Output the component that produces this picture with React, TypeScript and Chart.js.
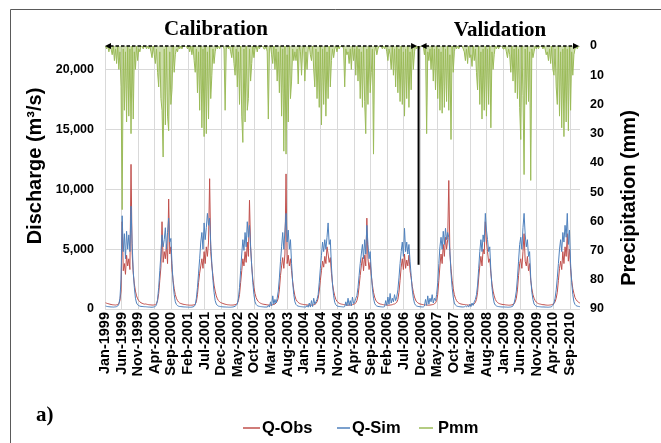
import React, { useEffect, useRef } from "react";
import { Chart, registerables } from "chart.js";

Chart.register(...registerables);

// Tick labels (every 5 months from Jan-1999)
const tickLabels = [
  "Jan-1999", "Jun-1999", "Nov-1999", "Apr-2000", "Sep-2000", "Feb-2001", "Jul-2001", "Dec-2001",
  "May-2002", "Oct-2002", "Mar-2003", "Aug-2003", "Jan-2004", "Jun-2004", "Nov-2004", "Apr-2005",
  "Sep-2005", "Feb-2006", "Jul-2006", "Dec-2006", "May-2007", "Oct-2007", "Mar-2008", "Aug-2008",
  "Jan-2009", "Jun-2009", "Nov-2009", "Apr-2010", "Sep-2010",
];
const dischargeTicks = [0, 5000, 10000, 15000, 20000];
const precipTicks = [0, 10, 20, 30, 40, 50, 60, 70, 80, 90];

const seriesNames = ["Q-Obs", "Q-Sim", "Pmm"];
const seriesColors = ["#c0504d", "#4f81bd", "#9bbb59"];

// Dekadal values (3 per month), Jan-1999 .. Dec-2010
// Observed discharge (m3/s)
const qObs = [
  /*1999*/ 520,480,450, 430,400,380, 360,350,340, 330,350,380, 450,700,1500, 7300,3200,3800, 2900,4500,3600, 4200,3300,12100, 4700,3000,2100, 1500,1100,850, 700,600,520, 480,440,410,
  /*2000*/ 420,400,380, 360,350,340, 330,330,340, 380,450,700, 1300,2400,3500, 7300,3900,4800, 4200,5400,3800, 9200,4600,5200, 3300,2400,1700, 1200,900,700, 580,500,460, 430,400,380,
  /*2001*/ 370,350,340, 330,320,320, 320,330,350, 400,600,1200, 2200,3000,3600, 4200,3400,4800, 3800,5200,4400, 5600,10900,4800, 3600,2800,2000, 1500,1100,850, 700,600,540, 500,460,430,
  /*2002*/ 400,380,360, 350,340,330, 330,330,340, 360,400,480, 700,1200,2200, 3200,4200,3600, 4800,3900,5600, 4400,9100,5200, 3600,2500,1800, 1300,950,750, 620,540,480, 440,410,390,
  /*2003*/ 380,360,350, 340,330,330, 340,360,380, 420,500,650, 900,1600,2800, 3600,4300,3400, 4600,11300,3800, 4500,3600,4200, 3200,2300,1600, 1100,800,650, 550,480,440, 410,390,370,
  /*2004*/ 360,350,340, 330,320,320, 320,330,350, 380,450,600, 900,1500,2400, 3200,4000,3500, 4400,3800,5200, 4600,3900,4300, 3000,2100,1500, 1100,800,650, 540,480,440, 410,390,370,
  /*2005*/ 360,340,330, 320,320,330, 340,360,380, 420,520,700, 1100,1900,2800, 3600,4300,3200, 4500,3600,7600, 4200,3300,3900, 2800,2000,1400, 1000,750,600, 520,460,420, 400,380,360,
  /*2006*/ 350,340,330, 320,320,330, 340,360,400, 420,480,560, 800,1400,2400, 3500,4200,3300, 4600,3400,4100, 3600,4500,3200, 2600,1900,1400, 1000,750,600, 520,460,420, 400,380,360,
  /*2007*/ 360,340,330, 320,320,330, 340,360,380, 420,520,700, 1200,2400,3600, 4600,3800,5400, 4400,6000,5000, 5800,10750,4600, 3400,2400,1700, 1200,900,700, 580,500,450, 420,400,380,
  /*2008*/ 380,360,350, 340,330,330, 340,360,380, 430,550,800, 1400,2600,3600, 4400,3600,5000, 4600,7300,5600, 4800,3900,4200, 3000,2100,1500, 1100,800,650, 540,480,440, 410,390,370,
  /*2009*/ 370,350,340, 330,320,320, 330,350,380, 430,600,900, 1600,2800,3800, 4200,3400,4800, 6300,4000,3600, 4400,3200,3800, 2400,1700,1200, 900,700,580, 500,450,420, 400,380,360,
  /*2010*/ 360,340,330, 320,320,330, 340,360,400, 450,600,900, 1400,2400,3400, 4000,3300,4800, 3800,5200,4400, 6300,4000,5000, 3400,2400,1700, 1300,950,780, 660,580,520, 480,450,430,
];

// Simulated discharge (m3/s)
const qSim = [
  /*1999*/ 250,220,200, 190,180,170, 170,160,170, 180,200,250, 400,900,2500, 7800,4800,6300, 4200,6500,5000, 6200,4800,8600, 5500,3200,1800, 900,500,350, 280,240,220, 210,200,190,
  /*2000*/ 190,180,170, 160,160,150, 150,160,180, 220,350,800, 1800,3200,4600, 6200,5200,5800, 6800,5000,6400, 7600,5600,5900, 3800,2200,1200, 600,380,280, 230,210,200, 190,180,170,
  /*2001*/ 170,160,160, 150,150,150, 160,180,220, 350,900,1800, 3000,4200,5600, 6400,5000,7200, 5800,6800,8000, 7000,7600,5400, 3800,2400,1400, 700,420,300, 240,220,200, 190,180,170,
  /*2002*/ 170,160,160, 150,150,150, 160,170,190, 230,300,420, 900,1800,3200, 4600,5800,4900, 6400,5200,7300, 6000,7000,5200, 3600,2200,1200, 600,380,280, 240,220,200, 190,180,170,
  /*2003*/ 160,170,150, 300,160,600, 250,1100,400, 800,500,900, 1500,2600,4000, 5200,6400,5000, 6600,8000,5600, 6600,5000,5800, 3800,2200,1200, 600,380,280, 240,220,200, 190,180,170,
  /*2004*/ 170,160,300, 150,500,160, 700,200,900, 400,600,800, 1200,2200,3400, 4500,5600,4800, 5800,5000,6000, 7200,5400,5800, 3600,2000,1100, 550,350,260, 230,210,200, 190,180,170,
  /*2005*/ 200,600,250, 900,300,700, 250,1000,450, 600,900,1100, 1800,2800,3800, 4600,5400,4200, 5800,4600,7000, 5400,4200,4800, 3000,1700,900, 480,320,250, 220,200,190, 180,170,170,
  /*2006*/ 200,700,300, 1000,400,1300, 500,900,600, 1200,700,1000, 1600,2600,3800, 4800,5600,4400, 6750,4800,5600, 4600,5400,4000, 2800,1600,900, 480,320,250, 220,200,190, 180,170,170,
  /*2007*/ 250,800,300, 1100,400,900, 600,1200,500, 900,700,1200, 2200,3800,5200, 6000,5000,6500, 5400,6750,5800, 6400,6000,4800, 3000,1800,1000, 500,330,260, 220,200,190, 180,170,170,
  /*2008*/ 180,250,170, 300,160,400, 200,500,300, 600,800,1200, 2000,3400,4800, 5800,4800,6200, 5600,8000,6600, 5800,4800,5200, 3200,1800,1000, 500,330,260, 220,200,190, 180,170,170,
  /*2009*/ 170,160,160, 150,150,160, 170,200,260, 500,900,1500, 2600,4000,5400, 6000,5000,6800, 8000,6200,5200, 5800,4400,4800, 2600,1400,800, 420,300,240, 210,200,190, 180,170,170,
  /*2010*/ 170,160,160, 150,150,160, 170,200,300, 500,900,1600, 2600,3800,5000, 5800,4800,6400, 5600,7000,6000, 8000,5400,6600, 3800,2200,1200, 600,380,280, 240,220,200, 190,180,170,
];

// Precipitation (mm)
const pmm = [
  /*1999*/ 0,1,0, 2,0,1, 3,0,5, 1,6,0, 8,2,14, 56,1,22, 2,26,0, 24,1,30, 0,25,2, 8,0,5, 1,2,0, 0,1,0,
  /*2000*/ 0,1,0, 1,0,2, 4,0,3, 6,1,9, 14,2,18, 22,38,1, 27,0,24, 29,2,20, 15,0,9, 3,1,2, 0,1,0, 1,0,0,
  /*2001*/ 0,0,1, 0,2,0, 3,0,5, 9,1,16, 2,22,0, 28,1,31, 0,30,2, 25,0,18, 10,1,6, 2,0,1, 0,1,0, 0,0,1,
  /*2002*/ 22,1,0, 1,0,2, 4,0,6, 10,1,14, 2,20,0, 24,33,1, 26,0,22, 18,1,12, 6,0,4, 1,0,2, 0,1,0, 0,0,1,
  /*2003*/ 1,0,2, 25,1,0, 3,6,0, 8,1,12, 2,16,0, 24,1,36, 0,37,3, 26,0,18, 12,1,5, 2,5,1, 13,0,2, 10,1,0,
  /*2004*/ 12,2,8, 1,0,3, 5,0,8, 14,1,18, 2,21,0, 27,1,20, 0,24,2, 18,0,14, 5,1,4, 1,0,2, 0,1,0, 0,0,1,
  /*2005*/ 14,1,3, 2,6,1, 8,0,5, 1,10,0, 12,1,18, 2,21,0, 19,30,1, 20,0,16, 9,1,37, 2,0,3, 1,0,0, 0,1,0,
  /*2006*/ 1,0,2, 5,1,3, 8,0,10, 1,14,0, 16,1,19, 0,20,2, 24,1,18, 0,21,2, 15,0,8, 2,0,1, 0,1,0, 0,0,0,
  /*2007*/ 3,0,30, 2,5,1, 8,0,12, 1,15,0, 18,1,22, 2,23,0, 21,1,19, 0,22,3, 32,0,9, 2,0,1, 0,1,0, 0,0,1,
  /*2008*/ 2,5,1, 6,0,4, 3,7,0, 5,1,9, 15,0,20, 2,25,1, 22,0,24, 1,20,0, 28,2,8, 3,0,1, 0,1,0, 0,0,1,
  /*2009*/ 1,0,2, 4,1,3, 9,0,12, 1,16,0, 18,1,21, 32,0,17, 44,1,20, 0,19,2, 46,1,4, 2,0,1, 0,1,0, 0,0,1,
  /*2010*/ 0,1,3, 2,5,1, 6,0,8, 10,1,14, 20,0,24, 2,28,1, 31,0,26, 1,29,0, 22,2,10, 3,1,0, 1,0,0, 0,0,0,
];

// Calibration / validation split (months since Jan-1999)
const splitMonth = 94.4;
const splitLineBottomQ = 3700;

const SANS = "'Liberation Sans', Arial, sans-serif";
const SERIF = "'Liberation Serif', 'Times New Roman', serif";

const toPoints = (arr: number[]) => arr.map((v, i) => ({ x: i / 3 + 1 / 6, y: v }));

function drawArrow(ctx: CanvasRenderingContext2D, x1: number, x2: number, y: number) {
  ctx.save();
  ctx.strokeStyle = "#000";
  ctx.fillStyle = "#000";
  ctx.lineWidth = 1.6;
  ctx.setLineDash([3.5, 2]);
  ctx.beginPath();
  ctx.moveTo(x1 + 5, y);
  ctx.lineTo(x2 - 5, y);
  ctx.stroke();
  ctx.setLineDash([]);
  ctx.beginPath();
  ctx.moveTo(x1, y);
  ctx.lineTo(x1 + 6, y - 3);
  ctx.lineTo(x1 + 6, y + 3);
  ctx.closePath();
  ctx.fill();
  ctx.beginPath();
  ctx.moveTo(x2, y);
  ctx.lineTo(x2 - 6, y - 3);
  ctx.lineTo(x2 - 6, y + 3);
  ctx.closePath();
  ctx.fill();
  ctx.restore();
}

const decorPlugin = {
  id: "decor",
  afterDatasetsDraw(chart: any) {
    const { ctx, chartArea, scales } = chart;
    const xd = scales.x.getPixelForValue(splitMonth);
    ctx.save();
    ctx.strokeStyle = "#000";
    ctx.lineWidth = 2;
    ctx.beginPath();
    ctx.moveTo(xd, chartArea.top);
    ctx.lineTo(xd, scales.y.getPixelForValue(splitLineBottomQ));
    ctx.stroke();
    ctx.restore();
    drawArrow(ctx, chartArea.left, xd - 1.5, chartArea.top);
    drawArrow(ctx, xd + 2, chartArea.right - 1, chartArea.top);
  },
  afterDraw(chart: any) {
    const { ctx } = chart;
    ctx.save();
    // frame
    ctx.strokeStyle = "#5a5a5a";
    ctx.lineWidth = 1;
    ctx.beginPath();
    ctx.moveTo(10.5, 443);
    ctx.lineTo(10.5, 9.5);
    ctx.lineTo(661, 9.5);
    ctx.stroke();

    ctx.fillStyle = "#000";
    // period titles
    ctx.font = `bold 21px ${SERIF}`;
    ctx.textAlign = "center";
    ctx.textBaseline = "alphabetic";
    ctx.fillText("Calibration", 216, 35);
    ctx.fillText("Validation", 500, 35.5);

    // panel letter
    ctx.textAlign = "left";
    ctx.fillText("a)", 36, 421);

    // axis titles
    ctx.font = `bold 20px ${SANS}`;
    ctx.textAlign = "center";
    ctx.save();
    ctx.translate(41, 166);
    ctx.rotate(-Math.PI / 2);
    ctx.fillText("Discharge (m³/s)", 0, 0);
    ctx.restore();
    ctx.save();
    ctx.translate(635, 198);
    ctx.rotate(-Math.PI / 2);
    ctx.fillText("Precipitation (mm)", 0, 0);
    ctx.restore();

    // legend
    const items = [
      { lx1: 243, lx2: 260, tx: 262 },
      { lx1: 337, lx2: 350, tx: 352 },
      { lx1: 419, lx2: 433, tx: 438 },
    ];
    ctx.font = `bold 16.5px ${SANS}`;
    ctx.textAlign = "left";
    items.forEach((it, i) => {
      ctx.strokeStyle = seriesColors[i];
      ctx.lineWidth = 1.5;
      ctx.beginPath();
      ctx.moveTo(it.lx1, 428);
      ctx.lineTo(it.lx2, 428);
      ctx.stroke();
      ctx.fillStyle = "#000";
      ctx.fillText(seriesNames[i], it.tx, 432.5);
    });
    ctx.restore();
  },
};

export default function App() {
  const canvasRef = useRef<HTMLCanvasElement | null>(null);

  useEffect(() => {
    const canvas = canvasRef.current;
    if (!canvas) return;
    const chart = new Chart(canvas, {
      type: "line",
      data: {
        datasets: [
          {
            label: seriesNames[0],
            data: toPoints(qObs),
            borderColor: seriesColors[0],
            borderWidth: 1,
            pointRadius: 0,
            tension: 0,
            yAxisID: "y",
            order: 1,
          },
          {
            label: seriesNames[1],
            data: toPoints(qSim),
            borderColor: seriesColors[1],
            borderWidth: 1,
            pointRadius: 0,
            tension: 0,
            yAxisID: "y",
            order: 0,
          },
          {
            label: seriesNames[2],
            data: toPoints(pmm),
            borderColor: seriesColors[2],
            backgroundColor: "rgba(155,187,89,0.5)",
            fill: { value: 0 },
            borderWidth: 1,
            pointRadius: 0,
            tension: 0,
            yAxisID: "y2",
            order: 2,
          },
        ],
      },
      options: {
        animation: false,
        responsive: false,
        devicePixelRatio: 1,
        layout: { padding: { top: 46, left: 0, right: 0, bottom: 0 } },
        plugins: {
          legend: { display: false },
          tooltip: { enabled: false },
          filler: { propagate: false },
        },
        scales: {
          x: {
            type: "linear",
            min: 0,
            max: 143,
            grid: { color: "#d9d9d9", drawTicks: false },
            border: { display: false },
            ticks: {
              autoSkip: false,
              minRotation: 90,
              maxRotation: 90,
              padding: 3,
              color: "#000",
              font: { family: SANS, weight: "bold", size: 14.5 },
              callback: (v: any) => tickLabels[Math.round(Number(v) / 5)] ?? "",
            },
            afterBuildTicks: (s: any) => {
              s.ticks = tickLabels.map((_, i) => ({ value: i * 5 }));
            },
            afterFit: (s: any) => {
              s.height = 134;
            },
          },
          y: {
            position: "left",
            min: 0,
            max: 22000,
            grid: { color: "#d9d9d9", drawTicks: false },
            border: { display: false },
            ticks: {
              padding: 11,
              color: "#000",
              font: { family: SANS, weight: "bold", size: 12.5 },
              callback: (v: any) => Number(v).toLocaleString("en-US"),
            },
            afterBuildTicks: (s: any) => {
              s.ticks = dischargeTicks.map((value) => ({ value }));
            },
            afterFit: (s: any) => {
              s.width = 105;
            },
          },
          y2: {
            position: "right",
            min: 0,
            max: 90,
            reverse: true,
            grid: { display: false, drawTicks: false },
            border: { display: false },
            ticks: {
              padding: 10,
              color: "#000",
              font: { family: SANS, weight: "bold", size: 12.5 },
            },
            afterBuildTicks: (s: any) => {
              s.ticks = precipTicks.map((value) => ({ value }));
            },
            afterFit: (s: any) => {
              s.width = 81;
            },
          },
        },
      } as any,
      plugins: [decorPlugin],
    });
    return () => chart.destroy();
  }, []);

  return (
    <div style={{ position: "fixed", left: 0, top: 0, width: 661, height: 443, background: "#fff" }}>
      <canvas ref={canvasRef} width={661} height={443} style={{ display: "block" }} />
    </div>
  );
}
